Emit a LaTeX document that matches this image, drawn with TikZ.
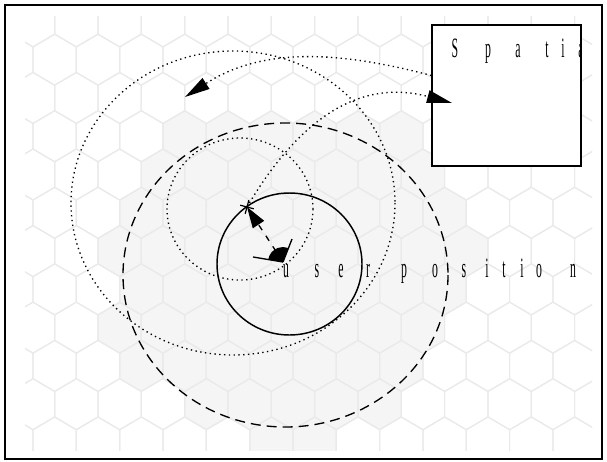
\documentclass[tikz,border=0pt]{standalone}
\usepackage{fontspec}
\setmainfont{Liberation Serif}
\usetikzlibrary{arrows.meta}
\definecolor{gridc}{RGB}{234,234,234}
\definecolor{shadec}{RGB}{245,245,245}
% one pointy-top hexagon around (#1,#2)
\newcommand\hexpath[2]{(#1,#2-25.5) -- (#1+21.67,#2-12.75) -- (#1+21.67,#2+12.75) -- (#1,#2+25.5) -- (#1-21.67,#2+12.75) -- (#1-21.67,#2-12.75) -- cycle}
\newcommand\narrowch[1]{\scalebox{0.42}[1]{#1}}
\begin{document}
\begin{tikzpicture}[x=0.75pt,y=-0.75pt,
  hexline/.style={draw=gridc,line width=0.9pt},
  hexshade/.style={fill=shadec},
  dotline/.style={line width=1pt,dash pattern=on 1pt off 2.6pt},
  rangeline/.style={line width=1pt,dash pattern=on 7.5pt off 4.5pt},
  ch/.style={anchor=base,inner sep=0pt,font=\fontsize{21}{21}\selectfont},
  bigtip/.style={-{Triangle[length=18.75pt,width=9.5pt]}},
  smalltip/.style={-{Triangle[length=15.75pt,width=10pt]}}]
\useasboundingbox (0,0) rectangle (607,461);

% hexagonal floor grid
\begin{scope}
\clip (25,16) rectangle (592,450);
\foreach \k/\a/\b in {3/3/8,4/3/9,5/2/9,6/2/10,7/2/9,8/2/9,9/2/8,10/4/8,11/5/6}{
  \pgfmathsetmacro\cy{21.4+38.28*\k}
  \pgfmathsetmacro\off{33+21.67*mod(\k,2)}
  \foreach \i in {\a,...,\b}{
    \pgfmathsetmacro\cx{\off+43.33*\i}
    \fill[hexshade] \hexpath{\cx}{\cy};
  }
}
\foreach \k in {0,...,12}{
  \pgfmathsetmacro\cy{21.4+38.28*\k}
  \pgfmathsetmacro\off{33+21.67*mod(\k,2)}
  \foreach \i in {-1,...,14}{
    \pgfmathsetmacro\cx{\off+43.33*\i}
    \draw[hexline] \hexpath{\cx}{\cy};
  }
}
\end{scope}

% positions
\coordinate (user) at (283,262);
\coordinate (cross) at (247,207);
\coordinate (intip) at (452,103);
\coordinate (outtip) at (185,97);

% previous estimate (dotted) and current estimate (solid / dashed)
\draw[dotline] (233,203) ellipse [x radius=162, y radius=152];
\draw[dotline] (240,209) ellipse [x radius=73, y radius=71];
\draw[rangeline] (285.5,275) ellipse [x radius=162.5, y radius=152];
\draw[line width=1.1pt] (289.5,264) ellipse [x radius=72.5, y radius=71];

% label of the user position
\foreach \c/\x in {u/286,s/317,e/341,r/368,p/404,o/435,s/464,i/487,t/504,i/522,o/539,n/573}
  \node[ch] at (\x,277) {\narrowch{\c}};

% spatial box
\node[draw,fill=white,line width=1pt,inner sep=0pt,minimum width=111.75pt,minimum height=105.75pt] (box) at (506.5,95.5) {};
\begin{scope}
\clip (box.south west) rectangle (box.north east);
\foreach \c/\x in {S/455,p/488,a/518,t/547,i/563,a/581}
  \node[ch] at (\x,57) {\narrowch{\c}};
\end{scope}

% dotted transfers to and from the box
\draw[dotline,bigtip] (cross) .. controls (292,130.5) and (352,76) .. (intip);
\draw[dotline,bigtip] ([yshift=15pt]box.west) .. controls (335,50) and (261,48) .. (outtip);

% heading from the user position to the marked point
\draw[line width=1pt,dash pattern=on 4.5pt off 5pt,smalltip] (user) -- (cross);
\fill (user) -- ++(-170.5:15) arc[start angle=-170.5,end angle=-68.6,radius=15] -- cycle;
\draw[line width=1pt] (user) -- ++(-170.5:30.4);
\draw[line width=1pt] (user) -- ++(-68.6:24.7);
\draw[line width=0.9pt] ([shift={(15:7)}]cross) -- ([shift={(195:7)}]cross);
\draw[line width=0.9pt] ([shift={(105:7)}]cross) -- ([shift={(285:7)}]cross);

% outer frame
\draw[line width=1.6pt] (5,5) rectangle (602,459);
\end{tikzpicture}
\end{document}
